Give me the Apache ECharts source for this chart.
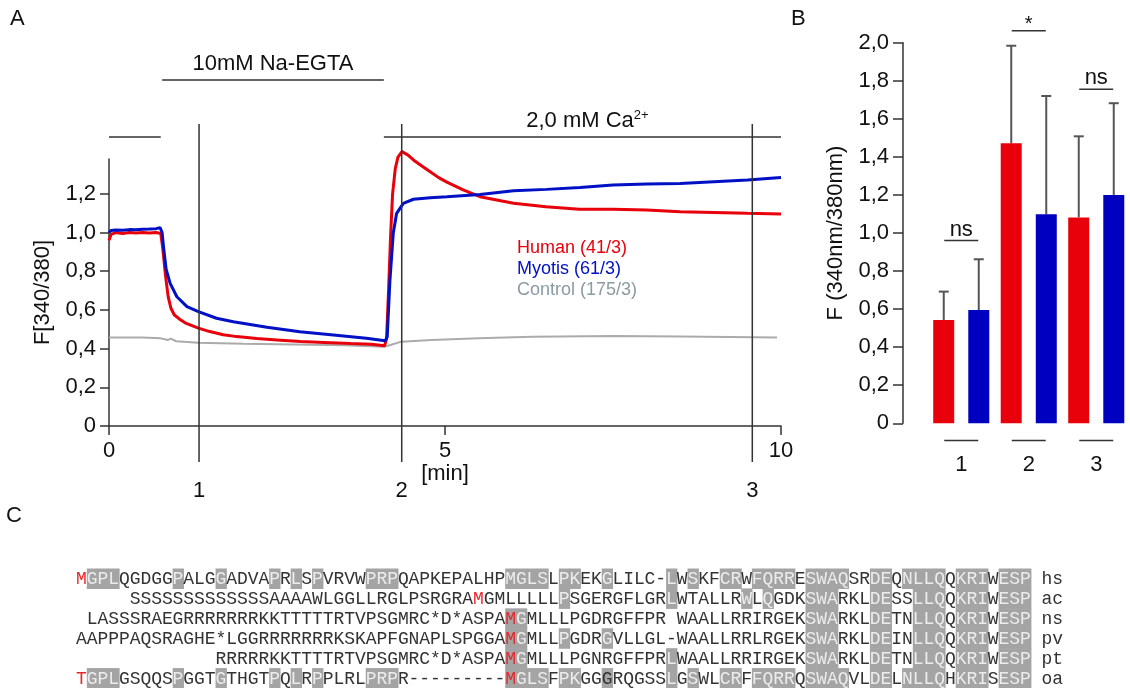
<!DOCTYPE html>
<html><head><meta charset="utf-8">
<script src="https://cdn.jsdelivr.net/npm/echarts/dist/echarts.min.js"></script>
<style>html,body{margin:0;padding:0;background:#fff}#c{width:1130px;height:688px}</style>
</head><body><div id="c"></div>
<script>
// ================= Panel A : Fura-2 ratio traces =================
const humanTrace = [[0,0.96],[0.03,0.99],[0.1,1.0],[0.2,0.995],[0.3,1.0],[0.4,0.998],[0.5,1.0],[0.6,0.997],[0.7,1.0],[0.77,0.995],
 [0.8,0.92],[0.84,0.78],[0.88,0.67],[0.92,0.61],[0.97,0.575],[1.05,0.552],[1.15,0.53],[1.33,0.506],[1.5,0.488],[1.7,0.472],
 [1.9,0.462],[2.2,0.452],[2.5,0.445],[2.85,0.437],[3.2,0.432],[3.6,0.426],[3.9,0.422],[4.1,0.415],[4.13,0.45],[4.16,0.7],
 [4.19,0.98],[4.22,1.2],[4.26,1.33],[4.3,1.39],[4.36,1.418],[4.45,1.4],[4.53,1.375],[4.65,1.345],[4.78,1.314],[4.9,1.285],
 [5.02,1.262],[5.27,1.22],[5.52,1.185],[5.77,1.168],[6.02,1.151],[6.5,1.133],[7.0,1.12],[7.5,1.12],[8.0,1.116],[8.5,1.107],
 [9.0,1.104],[9.5,1.099],[10.0,1.096]];
const myotisTrace = [[0,1.0],[0.03,1.01],[0.1,1.013],[0.2,1.012],[0.3,1.015],[0.4,1.014],[0.5,1.017],[0.6,1.018],[0.7,1.02],[0.76,1.025],
 [0.79,1.0],[0.81,0.93],[0.85,0.81],[0.91,0.737],[1.01,0.668],[1.16,0.617],[1.33,0.591],[1.6,0.557],[1.85,0.539],[2.35,0.51],
 [2.84,0.487],[3.34,0.47],[3.83,0.453],[4.11,0.441],[4.14,0.46],[4.18,0.75],[4.23,0.996],[4.28,1.099],[4.38,1.151],[4.53,1.172],
 [4.78,1.18],[5.03,1.185],[5.52,1.197],[6.02,1.216],[6.51,1.223],[7.01,1.233],[7.5,1.245],[8.0,1.251],[8.5,1.254],[9.0,1.263],
 [9.5,1.271],[10.0,1.285]];
const controlTrace = [[0,0.458],[0.5,0.457],[0.77,0.453],[0.88,0.445],[0.92,0.452],[1.0,0.438],[1.33,0.43],[2.0,0.425],[3.0,0.42],
 [3.5,0.418],[4.1,0.41],[4.2,0.42],[4.35,0.436],[4.8,0.444],[5.5,0.453],[6.3,0.461],[7.5,0.465],[8.5,0.462],[9.94,0.458]];
const traceNames = ['Human (41/3)','Myotis (61/3)','Control (175/3)'];
const traceYTicks = [0,0.2,0.4,0.6,0.8,1.0,1.2];
const traceXTicks = [0,5,10];
const timePoints = [1.34, 4.356, 9.573];
const timePointLabels = ['1','2','3'];
// treatment bars: [start min, end min, level]
const treatmentBars = [[0,0.77,1.494],[0.79,4.09,1.788],[4.09,10,1.494]];
const treatmentLabels = ['', '10mM Na-EGTA', '{a|2,0 mM Ca}{s|2+}'];

// ================= Panel B : bar chart =================
const groupLabels = ['1','2','3'];
const humanMean  = [0.543, 1.471, 1.082];
const humanUpper = [0.692, 1.984, 1.508];
const myotisMean  = [0.595, 1.098, 1.20];
const myotisUpper = [0.862, 1.72, 1.682];
const sigLabels  = ['ns','*','ns'];
const sigLevels  = [0.96, 2.063, 1.755];

// ================= Panel C : alignment =================
const seqNames = ['hs','ac','ns','pv','pt','oa'];
const seqHs = 'MGPLQGDGGPALGGADVAPRLSPVRVWPRPQAPKEPALHPMGLSLPKEKGLILC-LWSKFCRWFQRRESWAQSRDEQNLLQQKRIWESP';
const seqAc = '     SSSSSSSSSSSSSAAAAWLGGLLRGLPSRGRAMGMLLLLLPSGERGFLGRLWTALLRWLQGDKSWARKLDESSLLQQKRIWESP';
const seqNs = ' LASSSRAEGRRRRRRRKKTTTTTRTVPSGMRC*D*ASPAMGMLLLPGDRGFFPR WAALLRRIRGEKSWARKLDETNLLQQKRIWESP';
const seqPv = 'AAPPPAQSRAGHE*LGGRRRRRRRKSKAPFGNAPLSPGGAMGMLLPGDRGVLLGL-WAALLRRLRGEKSWARKLDEINLLQQKRIWESP';
const seqPt = '             RRRRRKKTTTTRTVPSGMRC*D*ASPAMGMLLLPGNRGFFPRLWAALLRRIRGEKSWARKLDETNLLQQKRIWESP';
const seqOa = 'TGPLGSQQSPGGTGTHGTPQLRPPLRLPRPR---------MGLSFPKGGGRQGSSLGSWLCRFFQRRQSWAQVLDELNLLQHKRISESP';
const shadeHs = [1,2,3,9,13,18,20,22,27,28,29,40,41,42,43,45,46,49,55,57,60,61,63,64,65,66,68,69,70,71,74,75,77,78,79,80,82,83,84,86,87,88];
const shadeAc = [45,55,62,64,68,69,70,74,75,78,79,80,82,83,84,86,87,88];
const shadeNs = [40,41,68,69,70,74,75,78,79,80,82,83,84,86,87,88];
const shadePv = [40,41,45,49,68,69,70,74,75,78,79,80,82,83,84,86,87,88];
const shadePt = [40,41,55,68,69,70,74,75,78,79,80,82,83,84,86,87,88];
const shadeOa = shadeHs;
const redMarks = [[0,0],[1,37],[2,40],[3,40],[4,40],[5,0],[5,40]]; // [row, col]
const darkOnShade = [[5,49]];

// ---------------- styling ----------------
const FONT = '"Liberation Sans", Arial, sans-serif';
const MONO = '"Liberation Mono", "Courier New", monospace';
const RED = '#e8000b', BLUE = '#0010c4', GRAY = '#ababab', AXIS = '#333';
const comma = v => v === 0 ? '0' : v.toFixed(1).replace('.', ',');

const seqRows = [seqHs, seqAc, seqNs, seqPv, seqPt, seqOa];
const shadeRows = [shadeHs, shadeAc, shadeNs, shadePv, shadePt, shadeOa];
const nCols = 92;
const cells = [];
seqRows.forEach((s, r) => {
  const full = s + ' ' + seqNames[r];
  for (let c = 0; c < full.length; c++) {
    const ch = full[c];
    if (ch === ' ') continue;
    const shaded = shadeRows[r].includes(c) && c < s.length;
    const red = redMarks.some(m => m[0] === r && m[1] === c);
    const dark = darkOnShade.some(m => m[0] === r && m[1] === c);
    cells.push({ value: [c, r], ch, shaded, red, dark });
  }
});

const chart = echarts.init(document.getElementById('c'), null, { renderer: 'canvas' });
const axisLine = { show: true, lineStyle: { color: AXIS, width: 1.5 } };

function errRender(offsetSign, upperArr) {
  return function (params, api) {
    const i = api.value(0);
    const m = api.coord([i, api.value(1)]);
    const u = api.coord([i, upperArr[params.dataIndex]]);
    const x = m[0] + offsetSign * 17.5;
    return { type: 'group', children: [
      { type: 'line', shape: { x1: x, y1: m[1], x2: x, y2: u[1] }, style: { stroke: '#555', lineWidth: 2 } },
      { type: 'line', shape: { x1: x - 5, y1: u[1], x2: x + 5, y2: u[1] }, style: { stroke: '#555', lineWidth: 2 } }
    ]};
  };
}

const option = {
  animation: false,
  backgroundColor: '#fff',
  textStyle: { fontFamily: FONT },
  graphic: [
    { type: 'text', left: 10, top: 8, style: { text: 'A', font: '22px ' + FONT, fill: '#111' } },
    { type: 'text', left: 791, top: 8, style: { text: 'B', font: '22px ' + FONT, fill: '#111' } },
    { type: 'text', left: 6, top: 505, style: { text: 'C', font: '22px ' + FONT, fill: '#111' } }
  ],
  legend: {
    data: [
      { name: traceNames[0], textStyle: { color: RED } },
      { name: traceNames[1], textStyle: { color: BLUE } },
      { name: traceNames[2], textStyle: { color: '#8a9ba3' } }
    ],
    orient: 'vertical', left: 507, top: 234, icon: 'none', itemWidth: 0, itemHeight: 14, itemGap: 3,
    selectedMode: false, textStyle: { fontSize: 18, fontFamily: FONT }
  },
  grid: [
    { left: 109, width: 672, top: 159, height: 267 },
    { left: 109, width: 672, top: 39, height: 464.4 },
    { left: 927.5, width: 211.5, top: 42.7, height: 380.6 },
    { left: 76.1, width: 986.9, top: 568.5, height: 120.6 }
  ],
  xAxis: [
    { gridIndex: 0, type: 'value', min: 0, max: 10, axisLine,
      axisTick: { show: true, length: 9, customValues: traceXTicks, lineStyle: { color: AXIS, width: 1.5 } },
      axisLabel: { customValues: traceXTicks, fontSize: 22, margin: 14, color: '#111', fontFamily: FONT },
      splitLine: { show: false },
      name: '[min]', nameLocation: 'middle', nameGap: 32,
      nameTextStyle: { fontSize: 22, color: '#111', fontFamily: FONT } },
    { gridIndex: 1, type: 'value', min: 0, max: 10, show: false },
    { gridIndex: 2, type: 'category', data: groupLabels, axisLine: { show: false }, axisTick: { show: false },
      axisLabel: { fontSize: 22, margin: 31, color: '#111', fontFamily: FONT } },
    { gridIndex: 3, type: 'category', data: Array.from({ length: nCols }, (_, i) => i), show: false }
  ],
  yAxis: [
    { gridIndex: 0, type: 'value', min: 0, max: 1.38, axisLine,
      axisTick: { show: true, length: 9, customValues: traceYTicks, lineStyle: { color: AXIS, width: 1.5 } },
      axisLabel: { customValues: traceYTicks, formatter: comma, fontSize: 22, margin: 13, color: '#111', fontFamily: FONT },
      splitLine: { show: false },
      name: 'F[340/380]', nameLocation: 'middle', nameGap: 55, nameRotate: 90,
      nameTextStyle: { fontSize: 22, color: '#111', fontFamily: FONT } },
    { gridIndex: 1, type: 'value', min: -0.4, max: 2.0, show: false },
    { gridIndex: 2, type: 'value', min: 0, max: 2.0, interval: 0.2, offset: 24.5, axisLine,
      axisTick: { show: true, length: 10, lineStyle: { color: AXIS, width: 1.5 } },
      axisLabel: { formatter: comma, fontSize: 22, margin: 14, color: '#111', fontFamily: FONT },
      splitLine: { show: false },
      name: 'F (340nm/380nm)', nameLocation: 'middle', nameGap: 56, nameRotate: 90,
      nameTextStyle: { fontSize: 22, color: '#111', fontFamily: FONT } },
    { gridIndex: 3, type: 'category', data: seqNames, inverse: true, show: false }
  ],
  series: [
    { name: traceNames[2], type: 'line', xAxisIndex: 0, yAxisIndex: 0, data: controlTrace, showSymbol: false, symbol: 'none',
      clip: false, lineStyle: { color: GRAY, width: 2 }, itemStyle: { color: GRAY }, z: 2 },
    { name: traceNames[0], type: 'line', xAxisIndex: 0, yAxisIndex: 0, data: humanTrace, showSymbol: false, symbol: 'none',
      clip: false, lineStyle: { color: RED, width: 3 }, itemStyle: { color: RED }, z: 3 },
    { name: traceNames[1], type: 'line', xAxisIndex: 0, yAxisIndex: 0, data: myotisTrace, showSymbol: false, symbol: 'none',
      clip: false, lineStyle: { color: BLUE, width: 3 }, itemStyle: { color: BLUE }, z: 4 },
    { type: 'custom', xAxisIndex: 1, yAxisIndex: 1, data: timePoints.map((t, i) => [t, i]), z: 5,
      renderItem: (params, api) => {
        const top = api.coord([api.value(0), 1.561]);
        const bot = api.coord([api.value(0), -0.186]);
        return { type: 'group', children: [
          { type: 'line', shape: { x1: top[0], y1: top[1], x2: bot[0], y2: bot[1] }, style: { stroke: AXIS, lineWidth: 1.5 } },
          { type: 'text', style: { text: timePointLabels[params.dataIndex], x: bot[0], y: bot[1] + 29,
              align: 'center', verticalAlign: 'middle', textAlign: 'center', textVerticalAlign: 'middle',
              font: '22px ' + FONT, fill: '#111' } }
        ]};
      } },
    { type: 'custom', xAxisIndex: 1, yAxisIndex: 1, data: treatmentBars, z: 5,
      renderItem: (params, api) => {
        const p1 = api.coord([api.value(0), api.value(2)]);
        const p2 = api.coord([api.value(1), api.value(2)]);
        const children = [{ type: 'line', shape: { x1: p1[0], y1: p1[1], x2: p2[0], y2: p2[1] }, style: { stroke: AXIS, lineWidth: 1.5 } }];
        const lab = treatmentLabels[params.dataIndex];
        if (lab) children.push({ type: 'text', style: { text: lab, x: (p1[0] + p2[0]) / 2 + (params.dataIndex === 2 ? 5 : 0), y: p1[1] - 16,
          align: 'center', verticalAlign: 'middle', textAlign: 'center', textVerticalAlign: 'middle',
          font: '22px ' + FONT, fill: '#111',
          rich: { a: { fontSize: 22, fontFamily: FONT, fill: '#111' },
                  s: { fontSize: 13, fontFamily: FONT, fill: '#111', verticalAlign: 'top', padding: [0, 0, 10, 0] } } } });
        return { type: 'group', children };
      } },
    { name: 'Human bars', type: 'bar', xAxisIndex: 2, yAxisIndex: 2, data: humanMean, barWidth: 21, barGap: '67%',
      itemStyle: { color: RED } },
    { name: 'Myotis bars', type: 'bar', xAxisIndex: 2, yAxisIndex: 2, data: myotisMean, barWidth: 21, barGap: '67%',
      itemStyle: { color: '#0000c0' } },
    { type: 'custom', xAxisIndex: 2, yAxisIndex: 2, data: humanMean.map((m, i) => [i, m]), renderItem: errRender(-1, humanUpper), z: 1 },
    { type: 'custom', xAxisIndex: 2, yAxisIndex: 2, data: myotisMean.map((m, i) => [i, m]), renderItem: errRender(1, myotisUpper), z: 1 },
    { type: 'custom', xAxisIndex: 2, yAxisIndex: 2, data: sigLevels.map((v, i) => [i, v]), z: 5,
      renderItem: (params, api) => {
        const p = api.coord([api.value(0), api.value(1)]);
        const star = sigLabels[params.dataIndex] === '*';
        return { type: 'group', children: [
          { type: 'line', shape: { x1: p[0] - 17, y1: p[1], x2: p[0] + 17, y2: p[1] }, style: { stroke: AXIS, lineWidth: 1.5 } },
          { type: 'text', style: { text: sigLabels[params.dataIndex], x: p[0], y: star ? p[1] - 6 : p[1] - 11,
              align: 'center', verticalAlign: 'middle', textAlign: 'center', textVerticalAlign: 'middle',
              font: (star ? '20px ' : '22px ') + FONT, fill: '#111' } }
        ]};
      } },
    { type: 'custom', xAxisIndex: 2, yAxisIndex: 2, data: groupLabels.map((g, i) => [i, -0.09]), z: 5,
      renderItem: (params, api) => {
        const p = api.coord([api.value(0), api.value(1)]);
        return { type: 'line', shape: { x1: p[0] - 17, y1: p[1], x2: p[0] + 17, y2: p[1] }, style: { stroke: AXIS, lineWidth: 1.5 } };
      } },
    { type: 'custom', xAxisIndex: 3, yAxisIndex: 3, data: cells.map(c => c.value), z: 5,
      renderItem: (params, api) => {
        const cell = cells[params.dataIndex];
        const p = api.coord([api.value(0), api.value(1)]);
        const s = api.size([1, 1]);
        const children = [];
        if (cell.shaded) children.push({ type: 'rect', shape: { x: p[0] - s[0] / 2, y: p[1] - s[1] / 2, width: s[0] + 0.6, height: s[1] + 0.6 },
          style: { fill: '#a4a4a4' } });
        const fill = cell.red ? '#e8262b' : (cell.shaded && !cell.dark ? '#ececec' : '#333');
        children.push({ type: 'text', style: { text: cell.ch, x: p[0], y: p[1] + 1,
          align: 'center', verticalAlign: 'middle', textAlign: 'center', textVerticalAlign: 'middle',
          font: '18px ' + MONO, fill } });
        return { type: 'group', children };
      } }
  ]
};
chart.setOption(option);
</script></body></html>
